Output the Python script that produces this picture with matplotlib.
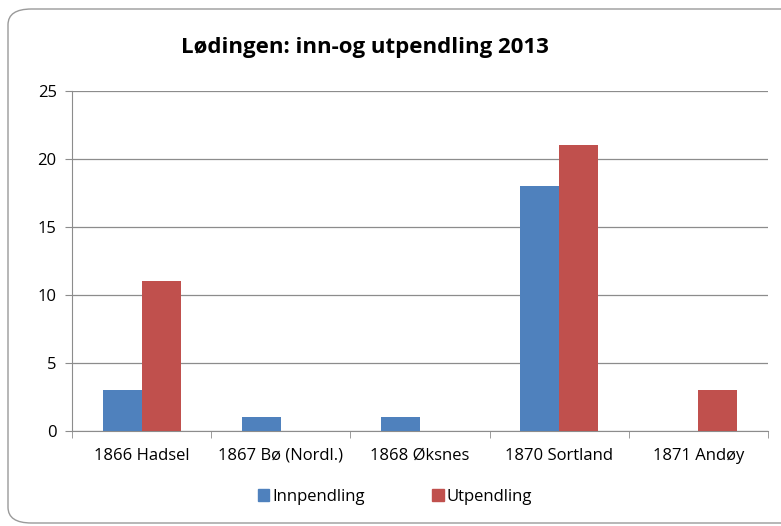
import matplotlib
matplotlib.use("Agg")
import matplotlib.pyplot as plt
from matplotlib.patches import FancyBboxPatch, Patch
import numpy as np
from matplotlib import font_manager

categories = ["1866 Hadsel", "1867 Bø (Nordl.)", "1868 Øksnes", "1870 Sortland", "1871 Andøy"]
innpendling = [3, 1, 1, 18, 0]
utpendling = [11, 0, 0, 21, 3]
series_names = ["Innpendling", "Utpendling"]
title = "Lødingen: inn-og utpendling 2013"

avail = {f.name for f in font_manager.fontManager.ttflist}
fam = "Liberation Sans Narrow" if "Liberation Sans Narrow" in avail else "Open Sans"
plt.rcParams['font.family'] = [fam, 'DejaVu Sans']

W, H = 781, 526
fig = plt.figure(figsize=(W/100, H/100), dpi=100)
fig.patch.set_facecolor("white")

border = FancyBboxPatch((8/W, 3/H), (W+20)/W, (H-12)/H,
                        boxstyle="round,pad=0,rounding_size=0.03",
                        transform=fig.transFigure, facecolor="none",
                        edgecolor="#9a9a9a", linewidth=1.0, zorder=-1)
fig.patches.append(border)

ax = fig.add_axes([72/W, 1-431/H, (768-72)/W, (431-91)/H])
ax.set_facecolor("none")
x = np.arange(len(categories))
bw = 0.28
blue = "#4F81BD"
red = "#C0504D"
ax.bar(x - bw/2, innpendling, bw, color=blue, zorder=3)
ax.bar(x + bw/2, utpendling, bw, color=red, zorder=3)

ax.set_xlim(-0.5, len(categories)-0.5)
ax.set_ylim(0, 25)
ax.set_yticks([0, 5, 10, 15, 20, 25])
ax.yaxis.grid(True, color="#8c8c8c", linewidth=0.9, zorder=0)
ax.set_axisbelow(True)
for s in ["top", "right"]:
    ax.spines[s].set_visible(False)
ax.spines["left"].set_color("#8c8c8c")
ax.spines["bottom"].set_color("#8c8c8c")
ax.set_xticks(x)
ax.set_xticklabels(categories, fontsize=12)
ax.set_xticks(np.arange(-0.5, len(categories)), minor=True)
ax.tick_params(axis="x", which="major", length=0, pad=12)
ax.tick_params(axis="x", which="minor", length=5, color="#8c8c8c")
ax.tick_params(axis="y", length=5, color="#8c8c8c", labelsize=12, pad=6)

fig.text(365/W, 1-47/H, title, ha="center", va="center", fontsize=16, fontweight="bold")

handles = [Patch(color=blue, label=series_names[0]), Patch(color=red, label=series_names[1])]
fig.legend(handles=handles, loc="center", bbox_to_anchor=(395/W, 1-497/H), ncol=2,
           frameon=False, fontsize=12, handlelength=0.7, handleheight=0.7,
           handletextpad=0.2, columnspacing=4)

fig.savefig("out.png", dpi=100)
